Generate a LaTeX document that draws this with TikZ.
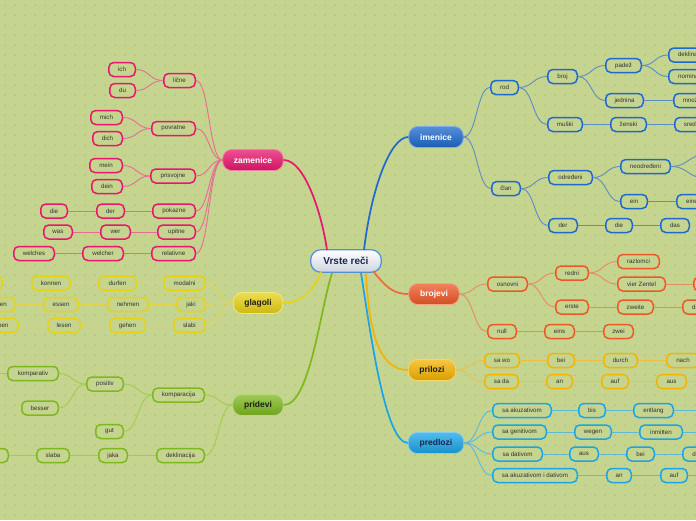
\documentclass[tikz,border=0pt]{standalone}
\usepackage{fontspec}
\setmainfont{Liberation Sans}
\usetikzlibrary{calc}
\definecolor{bg}{RGB}{197,212,143}
\definecolor{dotc}{RGB}{183,199,131}
\definecolor{cZ}{RGB}{232,22,110}
\definecolor{cZl}{RGB}{228,110,145}
\definecolor{cI}{RGB}{30,105,205}
\definecolor{cIl}{RGB}{95,140,195}
\definecolor{cB}{RGB}{238,88,40}
\definecolor{cBl}{RGB}{230,140,100}
\definecolor{cR}{RGB}{245,180,0}
\definecolor{cRl}{RGB}{236,192,70}
\definecolor{cD}{RGB}{25,165,230}
\definecolor{cDl}{RGB}{95,185,215}
\definecolor{cG}{RGB}{232,210,20}
\definecolor{cGl}{RGB}{226,214,80}
\definecolor{cP}{RGB}{125,185,30}
\definecolor{cPl}{RGB}{160,205,80}
\definecolor{txt}{RGB}{50,50,50}
\definecolor{navy}{RGB}{25,40,75}
\definecolor{dark}{RGB}{30,30,20}
\definecolor{ctrb}{RGB}{80,145,210}
\definecolor{ctrbot}{RGB}{205,213,224}
\tikzset{
  subn/.style={draw=#1, line width=1.5pt, rounded corners=5pt, minimum height=14pt, inner xsep=1pt, inner ysep=0pt, text=txt, font=\fontsize{6.2}{7}\selectfont, fill=bg},
  mw/.style={minimum width={#1pt-1.5pt}},
  mainnode/.style 2 args={rounded corners=9pt, minimum height=21pt, inner xsep=1pt, inner ysep=0pt, draw=#1!55!white, line width=0.8pt, top color=#1!75!white, bottom color=#1!88!black, text=#2, font=\bfseries\fontsize{8.5}{10}\selectfont},
  lk/.style={draw=#1, line width=0.9pt},
  mlk/.style={draw=#1, line width=1.7pt},
  link/.style={to path={.. controls ($(\tikztostart)!0.5!(\tikztostart-|\tikztotarget)$) and ($(\tikztotarget)!0.5!(\tikztotarget-|\tikztostart)$) .. (\tikztotarget) \tikztonodes}},
}
\begin{document}
\begin{tikzpicture}[x=1pt,y=-1pt]
\useasboundingbox (0,0) rectangle (696,520);
\begin{scope}
\clip (0,0) rectangle (696,520);
\fill[bg] (0,0) rectangle (696,520);
\foreach \i in {0,...,69}{\foreach \j in {0,...,51}{
  \draw[dotc,line width=0.4pt] ({5+10*\i-1.3},{5+10*\j}) -- ++(2.6,0) ({5+10*\i},{5+10*\j-1.3}) -- ++(0,2.6);
}}

% centre
\node[draw=ctrb, line width=1.2pt, rounded corners=10pt, minimum width=70.5pt, minimum height=22.5pt, inner sep=0pt, top color=white, bottom color=ctrbot, text=navy, font=\bfseries\fontsize{10}{12}\selectfont] (ctr) at (346,261) {Vrste reči};

% main nodes
\node[mainnode={cZ}{white}, mw=62] (z0) at (253,160) {zamenice};
\node[mainnode={cI}{white}, mw=56] (i0) at (436,137) {imenice};
\node[mainnode={cB}{white}, mw=52] (b0) at (434,294) {brojevi};
\node[mainnode={cR}{dark}, mw=49] (r0) at (432,370) {prilozi};
\node[mainnode={cD}{navy}, mw=57] (d0) at (436,443) {predlozi};
\node[mainnode={cG}{dark}, mw=51] (g0) at (258,303) {glagoli};
\node[mainnode={cP}{dark}, mw=52] (p0) at (258,405) {pridevi};

% zamenice
\node[subn=cZ, mw=33] (z1) at (179.5,80.5) {lične};
\node[subn=cZ, mw=28] (z1a) at (122,69.5) {ich};
\node[subn=cZ, mw=27] (z1b) at (122.5,90.5) {du};
\node[subn=cZ, mw=45] (z2) at (173.5,128.5) {povratne};
\node[subn=cZ, mw=33] (z2a) at (106.5,117.5) {mich};
\node[subn=cZ, mw=31] (z2b) at (107.5,138.5) {dich};
\node[subn=cZ, mw=46] (z3) at (173,176) {prisvojne};
\node[subn=cZ, mw=34] (z3a) at (106,165.5) {mein};
\node[subn=cZ, mw=32] (z3b) at (107,186.5) {dein};
\node[subn=cZ, mw=44] (z4) at (174,211) {pokazne};
\node[subn=cZ, mw=29] (z4a) at (110.5,211) {der};
\node[subn=cZ, mw=28] (z4b) at (54,211) {die};
\node[subn=cZ, mw=39] (z5) at (176.5,232) {upitne};
\node[subn=cZ, mw=31] (z5a) at (115.5,232) {wer};
\node[subn=cZ, mw=30] (z5b) at (58,232) {was};
\node[subn=cZ, mw=45] (z6) at (173.5,253.5) {relativne};
\node[subn=cZ, mw=42] (z6a) at (103,253.5) {welcher};
\node[subn=cZ, mw=42] (z6b) at (34,253.5) {welches};

% glagoli
\node[subn=cG, mw=43] (g1) at (184.5,283) {modalni};
\node[subn=cG, mw=39] (g1a) at (117.5,283) {durfen};
\node[subn=cG, mw=40] (g1b) at (51,283) {konnen};
\node[subn=cG, mw=40] (g1c) at (-17,283) {mussen};
\node[subn=cG, mw=30] (g2) at (191,304.5) {jaki};
\node[subn=cG, mw=42] (g2a) at (128,304.5) {nehmen};
\node[subn=cG, mw=36] (g2b) at (61,304.5) {essen};
\node[subn=cG, mw=44] (g2c) at (-6,304.5) {sprechen};
\node[subn=cG, mw=33] (g3) at (189.5,325.5) {slabi};
\node[subn=cG, mw=37] (g3a) at (127.5,325.5) {gehen};
\node[subn=cG, mw=34] (g3b) at (64,325.5) {lesen};
\node[subn=cG, mw=48] (g3c) at (-5,325.5) {schreiben};

% pridevi
\node[subn=cP, mw=53] (p1) at (178.5,395) {komparacija};
\node[subn=cP, mw=38] (p1a) at (105,384) {positiv};
\node[subn=cP, mw=52] (p1a1) at (33,373.5) {komparativ};
\node[subn=cP, mw=38] (p1a2) at (40,408) {besser};
\node[subn=cP, mw=29] (p1b) at (109.5,431.5) {gut};
\node[subn=cP, mw=49] (p2) at (180.5,455.5) {deklinacija};
\node[subn=cP, mw=30] (p2a) at (113,455.5) {jaka};
\node[subn=cP, mw=34] (p2b) at (53,455.5) {slaba};
\node[subn=cP, mw=44] (p2c) at (-13,455.5) {mešovita};
\coordinate (poff) at (-40,373.5);

% imenice
\node[subn=cI, mw=29] (i1) at (504.5,87.5) {rod};
\node[subn=cI, mw=31] (i1a) at (562.5,76.5) {broj};
\node[subn=cI, mw=37] (i1a1) at (623.5,65.5) {padež};
\node[subn=cI, mw=49] (i1a1a) at (692.5,55) {deklinacija};
\node[subn=cI, mw=47] (i1a1b) at (691.5,76.5) {nominativ};
\node[subn=cI, mw=39] (i1a2) at (624.5,100.5) {jednina};
\node[subn=cI, mw=43] (i1a2a) at (694.5,100.5) {množina};
\node[subn=cI, mw=36] (i1b) at (565,124.5) {muški};
\node[subn=cI, mw=37] (i1b1) at (628.5,124.5) {ženski};
\node[subn=cI, mw=38] (i1b2) at (693,124.5) {srednji};
\node[subn=cI, mw=30] (i2) at (506,188.5) {član};
\node[subn=cI, mw=45] (i2a) at (570.5,177.5) {određeni};
\node[subn=cI, mw=51] (i2a1) at (645.5,166.5) {neodređeni};
\coordinate (io1) at (705,155);
\coordinate (io2) at (705,178);
\node[subn=cI, mw=28] (i2a2) at (634,201.5) {ein};
\node[subn=cI, mw=32] (i2a2a) at (692,201.5) {eine};
\node[subn=cI, mw=30] (i2b) at (563,225.5) {der};
\node[subn=cI, mw=28] (i2b1) at (619,225.5) {die};
\node[subn=cI, mw=30] (i2b2) at (675,225.5) {das};

% brojevi
\node[subn=cB, mw=41] (b1) at (507.5,284) {osnovni};
\node[subn=cB, mw=34] (b1a) at (572,273) {redni};
\node[subn=cB, mw=43] (b1a1) at (638.5,261.5) {razlomci};
\node[subn=cB, mw=49] (b1a2) at (641.5,284) {vier Zentel};
\node[subn=cB, mw=50] (b1a2a) at (718,284) {Viertel};
\node[subn=cB, mw=34] (b1b) at (572,307) {erste};
\node[subn=cB, mw=37] (b1b1) at (635.5,307) {zweite};
\node[subn=cB, mw=34] (b1b2) at (699,307) {dritte};
\node[subn=cB, mw=30] (b2) at (502,331.5) {null};
\node[subn=cB, mw=31] (b2a) at (559.5,331.5) {eins};
\node[subn=cB, mw=31] (b2b) at (618.5,331.5) {zwei};

% prilozi
\node[subn=cR, mw=36] (r1) at (502,360.5) {sa wo};
\node[subn=cR, mw=28] (r1a) at (561,360.5) {bei};
\node[subn=cR, mw=35] (r1b) at (620.5,360.5) {durch};
\node[subn=cR, mw=34] (r1c) at (683,360.5) {nach};
\node[subn=cR, mw=35] (r2) at (501.5,381.5) {sa da};
\node[subn=cR, mw=27] (r2a) at (559.5,381.5) {an};
\node[subn=cR, mw=28] (r2b) at (615,381.5) {auf};
\node[subn=cR, mw=31] (r2c) at (671.5,381.5) {aus};
\coordinate (roff) at (720,381.5);

% predlozi
\node[subn=cD, mw=60] (d1) at (522,410.5) {sa akuzativom};
\node[subn=cD, mw=28] (d1a) at (592,410.5) {bis};
\node[subn=cD, mw=41] (d1b) at (653.5,410.5) {entlang};
\coordinate (doff1) at (720,410.5);
\node[subn=cD, mw=55] (d2) at (519.5,432) {sa genitivom};
\node[subn=cD, mw=38] (d2a) at (593,432) {wegen};
\node[subn=cD, mw=44] (d2b) at (661,432) {inmitten};
\coordinate (doff2) at (720,432);
\node[subn=cD, mw=51] (d3) at (517.5,454) {sa dativom};
\node[subn=cD, mw=30] (d3a) at (584,454) {aus};
\node[subn=cD, mw=29] (d3b) at (640.5,454) {bei};
\node[subn=cD, mw=34] (d3c) at (699,454) {dank};
\node[subn=cD, mw=86] (d4) at (535,475.5) {sa akuzativom i dativom};
\node[subn=cD, mw=26] (d4a) at (619,475.5) {an};
\node[subn=cD, mw=28] (d4b) at (674,475.5) {auf};
\coordinate (doff4) at (720,475.5);

% main connectors
\coordinate (sZ) at (327,250);
\coordinate (sI) at (364,250);
\coordinate (sB) at (373,271);
\coordinate (sR) at (366,273);
\coordinate (sD) at (361,273);
\coordinate (sG) at (321,272);
\coordinate (sP) at (332,273);
\draw[mlk=cZ] (sZ) .. controls (322,215) and (305,160) .. (z0.east);
\draw[mlk=cI] (sI) .. controls (371,190) and (390,137) .. (i0.west);
\draw[mlk=cB!90!white] (sB) .. controls (386,287) and (393,294) .. (b0.west);
\draw[mlk=cR] (sR) .. controls (369,335) and (380,370) .. (r0.west);
\draw[mlk=cD] (sD) .. controls (370,330) and (385,443) .. (d0.west);
\draw[mlk=cG] (sG) .. controls (313,292) and (300,303) .. (g0.east);
\draw[mlk=cP] (sP) .. controls (320,310) and (310,405) .. (p0.east);

% child connectors (left side)
\foreach \a/\b in {z0/z1,z0/z2,z0/z3,z0/z4,z0/z5,z0/z6,z1/z1a,z1/z1b,z2/z2a,z2/z2b,z3/z3a,z3/z3b,z4/z4a,z4a/z4b,z5/z5a,z5a/z5b,z6/z6a,z6a/z6b}
  \draw[lk=cZl] (\a.west) to[link] (\b.east);
\foreach \a/\b in {g0/g1,g0/g2,g0/g3,g1/g1a,g1a/g1b,g1b/g1c,g2/g2a,g2a/g2b,g2b/g2c,g3/g3a,g3a/g3b,g3b/g3c}
  \draw[lk=cGl] (\a.west) to[link] (\b.east);
\foreach \a/\b in {p0/p1,p0/p2,p1/p1a,p1/p1b,p1a/p1a1,p1a/p1a2,p2/p2a,p2a/p2b,p2b/p2c}
  \draw[lk=cPl] (\a.west) to[link] (\b.east);
\draw[lk=cPl] (p1a1.west) -- (poff);

% child connectors (right side)
\foreach \a/\b in {i0/i1,i0/i2,i1/i1a,i1/i1b,i1a/i1a1,i1a/i1a2,i1a1/i1a1a,i1a1/i1a1b,i1a2/i1a2a,i1b/i1b1,i1b1/i1b2,i2/i2a,i2/i2b,i2a/i2a1,i2a/i2a2,i2a2/i2a2a,i2b/i2b1,i2b1/i2b2}
  \draw[lk=cIl] (\a.east) to[link] (\b.west);
\draw[lk=cIl] (i2a1.east) to[link] (io1);
\draw[lk=cIl] (i2a1.east) to[link] (io2);
\foreach \a/\b in {b0/b1,b0/b2,b1/b1a,b1/b1b,b1a/b1a1,b1a/b1a2,b1a2/b1a2a,b1b/b1b1,b1b1/b1b2,b2/b2a,b2a/b2b}
  \draw[lk=cBl] (\a.east) to[link] (\b.west);
\foreach \a/\b in {r0/r1,r0/r2,r1/r1a,r1a/r1b,r1b/r1c,r2/r2a,r2a/r2b,r2b/r2c}
  \draw[lk=cRl] (\a.east) to[link] (\b.west);
\draw[lk=cRl] (r2c.east) -- (roff);
\foreach \a/\b in {d0/d1,d0/d2,d0/d3,d0/d4,d1/d1a,d1a/d1b,d2/d2a,d2a/d2b,d3/d3a,d3a/d3b,d3b/d3c,d4/d4a,d4a/d4b}
  \draw[lk=cDl] (\a.east) to[link] (\b.west);
\draw[lk=cDl] (d1b.east) -- (doff1);
\draw[lk=cDl] (d2b.east) -- (doff2);
\draw[lk=cDl] (d4b.east) -- (doff4);
\end{scope}
\end{tikzpicture}
\end{document}
